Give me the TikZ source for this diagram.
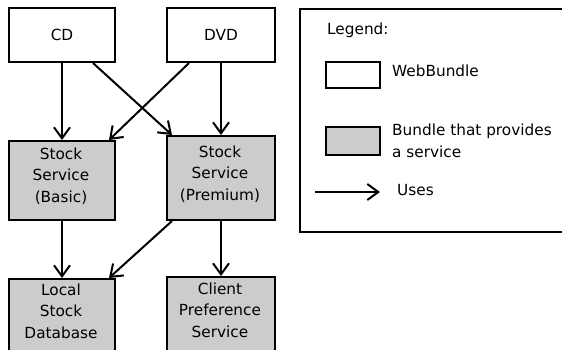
\documentclass[tikz,border=0pt]{standalone}
\usepackage{fontspec}
\setmainfont{DejaVu Sans}
\usetikzlibrary{arrows.meta,positioning}
\definecolor{boxgrey}{RGB}{204,204,204}
\tikzset{
  every node/.style={font=\fontsize{15.3}{21.5}\selectfont},
  wbox/.style={draw=black, line width=2pt, fill=white, anchor=north west, inner sep=0pt, align=center},
  gbox/.style={wbox, fill=boxgrey},
  txt/.style={inner sep=0pt, align=center},
  uses/.style={line width=2pt, -{Straight Barb[length=11pt,width=16pt,line width=2pt]}},
}
\begin{document}
\begin{tikzpicture}[x=1pt,y=-1pt]
\useasboundingbox (0,0) rectangle (562,349);
\clip (0,0) rectangle (562,349);
\fill[white] (0,0) rectangle (562,349);
% main boxes
\node[wbox, minimum width=106pt, minimum height=54pt] (cd) at (8,7) {CD};
\node[wbox, minimum width=108pt, minimum height=54pt] (dvd) at (166,7) {DVD};
\node[gbox, minimum width=106pt, minimum height=79pt] (basic) at (8,140) {};
\node[txt] (basict) at (61,176) {Stock\\Service\\(Basic)};
\node[gbox, minimum width=108pt, minimum height=84pt] (prem) at (166,135) {};
\node[txt] (premt) at (220,174) {Stock\\Service\\(Premium)};
\node[gbox, minimum width=106pt, minimum height=90pt] (db) at (8,278) {};
\node[txt] (dbt) at (61,311) {Local\\Stock\\Database};
\node[gbox, minimum width=108pt, minimum height=90pt] (cps) at (166,276) {};
\node[txt] (cpst) at (220,310) {Client\\Preference\\Service};
% arrows
\draw[uses] (cd.south) -- (basic.north);
\draw[uses] ([xshift=31pt]cd.south) -- ([xshift=6pt]prem.north west);
\draw[uses] ([xshift=23pt]dvd.south west) -- ([xshift=-7pt]basic.north east);
\draw[uses] (dvd.south) -- (prem.north);
\draw[uses] (basic.south) -- (db.north);
\draw[uses] ([xshift=6pt]prem.south west) -- ([xshift=-7pt]db.north east);
\draw[uses] (prem.south) -- (cps.north);
% legend
\node[wbox, minimum width=320pt, minimum height=223pt] (legend) at (299,8) {};
\node[txt, anchor=west] (legt) at (327,30) {Legend:};
\node[wbox, minimum width=54pt, minimum height=26pt] (lw) at (325,61) {};
\node[txt, anchor=west] (lwt) at (392,71) {WebBundle};
\node[gbox, minimum width=54pt, minimum height=28pt] (lg) at (325,126) {};
\node[txt, anchor=north west, align=left] (lgt) at (392,124) {Bundle that provides\\a service};
\coordinate (ua) at (315,192);
\coordinate (ub) at (380,192);
\draw[uses] (ua) -- (ub);
\node[txt, anchor=west] (ut) at (397,190) {Uses};
\end{tikzpicture}
\end{document}
